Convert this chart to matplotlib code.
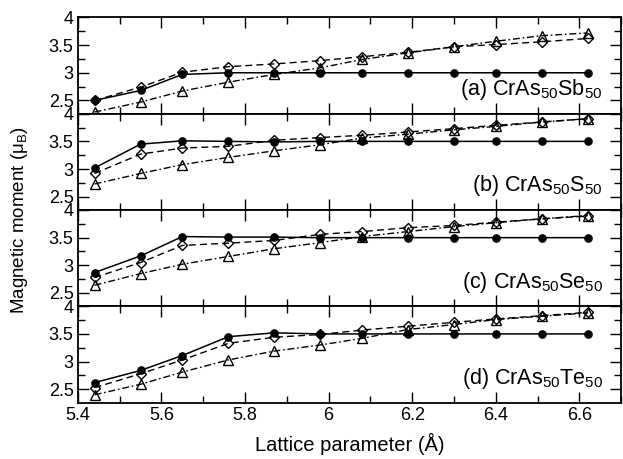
import matplotlib
matplotlib.use("Agg")
import matplotlib.pyplot as plt
from matplotlib.ticker import MultipleLocator

plt.rcParams['font.family'] = ['Liberation Sans', 'DejaVu Sans']
plt.rcParams['mathtext.fontset'] = 'custom'
plt.rcParams['mathtext.rm'] = 'Liberation Sans'
plt.rcParams['mathtext.it'] = 'Liberation Sans'

# Paramètre de maille (Å)
lattice = [5.44, 5.55, 5.65, 5.76, 5.87, 5.98, 6.08, 6.19, 6.30, 6.40, 6.51, 6.62]

# Noms des alliages
labels = ['(a) CrAs$_{50}$Sb$_{50}$', '(b) CrAs$_{50}$S$_{50}$',
          '(c) CrAs$_{50}$Se$_{50}$', '(d) CrAs$_{50}$Te$_{50}$']

# Moments magnétiques : cercles pleins (trait plein)
circles = [
    [2.50, 2.68, 2.97, 3.00, 3.00, 3.00, 3.00, 3.00, 3.00, 3.00, 3.00, 3.00],
    [3.02, 3.45, 3.51, 3.50, 3.49, 3.50, 3.50, 3.50, 3.50, 3.50, 3.50, 3.50],
    [2.87, 3.17, 3.52, 3.51, 3.51, 3.50, 3.50, 3.50, 3.50, 3.50, 3.50, 3.50],
    [2.62, 2.84, 3.11, 3.45, 3.52, 3.50, 3.50, 3.50, 3.50, 3.50, 3.50, 3.50],
]

# Losanges (tirets)
diamonds = [
    [2.50, 2.74, 3.01, 3.11, 3.16, 3.22, 3.29, 3.37, 3.47, 3.51, 3.56, 3.62],
    [2.92, 3.27, 3.38, 3.41, 3.52, 3.57, 3.61, 3.67, 3.73, 3.79, 3.85, 3.91],
    [2.78, 3.05, 3.36, 3.40, 3.45, 3.56, 3.61, 3.68, 3.72, 3.78, 3.84, 3.89],
    [2.53, 2.78, 3.03, 3.33, 3.44, 3.49, 3.57, 3.64, 3.71, 3.77, 3.83, 3.89],
]

# Triangles (tirets-points)
triangles = [
    [2.29, 2.47, 2.67, 2.83, 2.97, 3.09, 3.24, 3.36, 3.47, 3.57, 3.67, 3.72],
    [2.73, 2.92, 3.08, 3.21, 3.33, 3.44, 3.56, 3.63, 3.71, 3.77, 3.85, 3.91],
    [2.64, 2.85, 3.02, 3.16, 3.30, 3.41, 3.52, 3.61, 3.70, 3.77, 3.84, 3.90],
    [2.40, 2.59, 2.81, 3.03, 3.19, 3.30, 3.42, 3.58, 3.67, 3.76, 3.82, 3.88],
]

fig, axes = plt.subplots(4, 1, sharex=True, figsize=(6.23, 4.59), dpi=100)
fig.subplots_adjust(left=0.125, right=0.997, top=0.962, bottom=0.123, hspace=0)

for i, ax in enumerate(axes):
    ax.plot(lattice, circles[i], '-', color='black', lw=1.1, marker='o',
            ms=5.2, mfc='black', mec='black', zorder=3)
    ax.plot(lattice, diamonds[i], '--', color='black', lw=1.0, marker='D',
            ms=4.8, mfc='none', mec='black', mew=1.0, dashes=(5, 3), zorder=2)
    ax.plot(lattice, triangles[i], '-.', color='black', lw=1.0, marker='^',
            ms=7, mfc='none', mec='black', mew=1.0, dashes=(5, 2, 1.2, 2), zorder=2)
    ax.set_xlim(5.4, 6.7)
    ax.set_ylim(2.26, 4.0)
    ax.xaxis.set_major_locator(MultipleLocator(0.2))
    ax.xaxis.set_minor_locator(MultipleLocator(0.1))
    ax.yaxis.set_major_locator(MultipleLocator(0.5))
    ax.yaxis.set_minor_locator(MultipleLocator(0.25))
    ax.tick_params(which='both', direction='in', top=True, right=True,
                   labelsize=13, width=1.0)
    ax.tick_params(which='major', length=8)
    ax.tick_params(which='minor', length=5)
    ax.tick_params(axis='y', which='major', pad=3)
    ax.set_yticks([2.5, 3, 3.5, 4])
    ax.set_yticklabels(['2.5', '3', '3.5', '4'])
    for s in ax.spines.values():
        s.set_linewidth(1.3)
    ax.text(0.966, 0.12, labels[i], transform=ax.transAxes, ha='right',
            va='bottom', fontsize=15.5)

axes[-1].set_xticks([5.4, 5.6, 5.8, 6.0, 6.2, 6.4, 6.6])
axes[-1].set_xticklabels(['5.4', '5.6', '5.8', '6', '6.2', '6.4', '6.6'])
axes[-1].set_xlabel('Lattice parameter (Å)', fontsize=14.5, labelpad=6)
fig.text(0.032, 0.52, r'Magnetic moment ($\mu_{\rm B}$)', rotation=90,
         ha='center', va='center', fontsize=13.5)

plt.savefig('out.png', dpi=100)
